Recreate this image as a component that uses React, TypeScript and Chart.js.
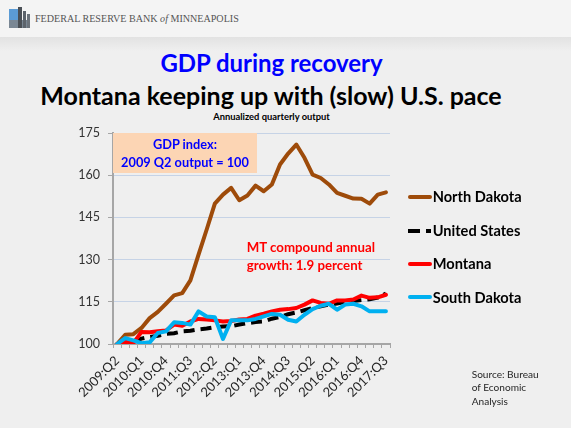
import React, { useEffect, useRef } from "react";
import { Chart, registerables } from "chart.js";

Chart.register(...registerables);

const categories = [
  "2009:Q2", "2009:Q3", "2009:Q4",
  "2010:Q1", "2010:Q2", "2010:Q3", "2010:Q4",
  "2011:Q1", "2011:Q2", "2011:Q3", "2011:Q4",
  "2012:Q1", "2012:Q2", "2012:Q3", "2012:Q4",
  "2013:Q1", "2013:Q2", "2013:Q3", "2013:Q4",
  "2014:Q1", "2014:Q2", "2014:Q3", "2014:Q4",
  "2015:Q1", "2015:Q2", "2015:Q3", "2015:Q4",
  "2016:Q1", "2016:Q2", "2016:Q3", "2016:Q4",
  "2017:Q1", "2017:Q2", "2017:Q3",
];

const northDakota = [100, 103.3, 103.5, 105.7, 109.2, 111.4, 114.3, 117.3, 118.1, 122.6, 131.8, 140.7, 149.9, 153.1, 155.5, 151.1, 152.8, 156.3, 154.3, 156.7, 163.8, 167.7, 170.9, 166.2, 160.2, 159.0, 156.7, 153.7, 152.7, 151.7, 151.6, 149.9, 153.1, 153.9];
const unitedStates = [100, 100.3, 101.0, 101.9, 102.5, 102.9, 103.6, 103.8, 104.5, 104.7, 105.2, 105.5, 106.0, 106.2, 106.3, 106.9, 107.4, 107.8, 108.0, 109.0, 109.6, 110.6, 111.2, 112.0, 112.8, 113.4, 114.0, 114.4, 115.0, 115.3, 115.6, 115.9, 116.5, 117.9];
const montana = [100, 100.8, 100.3, 104.3, 104.2, 104.5, 104.8, 106.9, 106.5, 108.0, 108.9, 108.7, 108.4, 108.0, 108.2, 108.7, 108.9, 110.1, 110.8, 111.6, 112.2, 112.4, 112.8, 114.0, 115.5, 114.6, 114.3, 115.5, 115.5, 115.8, 117.2, 116.4, 116.6, 117.5];
const southDakota = [100, 102.1, 101.3, 100.3, 100.6, 103.9, 104.5, 107.7, 107.5, 106.9, 111.6, 109.8, 109.5, 101.8, 108.4, 108.4, 108.4, 108.9, 109.8, 110.7, 110.4, 108.6, 108.0, 110.4, 112.4, 113.6, 114.3, 112.2, 114.0, 114.3, 113.4, 111.6, 111.6, 111.6];

const seriesNames = ["North Dakota", "United States", "Montana", "South Dakota"];
const yTicks = [100, 115, 130, 145, 160, 175];

const FONT = 'Lato, "Open Sans", sans-serif';
const BROWN = "#9E4B0A";
const RED = "#FF0000";
const BLUE = "#00B0F0";

let mctx: CanvasRenderingContext2D | null = null;
function fit(text: string, weight: string, family: string, target: number, style = "normal") {
  if (!mctx) mctx = document.createElement("canvas").getContext("2d");
  if (!mctx) return 12;
  mctx.font = `${style} ${weight} 100px ${family}`;
  const w = mctx.measureText(text).width;
  return (100 * target) / w;
}

type TxtProps = {
  text: string; x: number; y: number; size: number; weight?: string | number;
  color?: string; align?: "center" | "left"; family?: string;
};
function Txt({ text, x, y, size, weight = "bold", color = "#000", align = "center", family = FONT }: TxtProps) {
  const lh = size * 1.2;
  const style: React.CSSProperties = {
    position: "absolute",
    top: y - lh / 2,
    lineHeight: `${lh}px`,
    fontSize: size,
    fontWeight: weight as any,
    fontFamily: family,
    color,
    whiteSpace: "nowrap",
  };
  if (align === "center") {
    style.left = x - 400;
    style.width = 800;
    style.textAlign = "center";
  } else {
    style.left = x;
  }
  return <div style={style}>{text}</div>;
}

export default function App() {
  const canvasRef = useRef<HTMLCanvasElement | null>(null);

  useEffect(() => {
    const canvas = canvasRef.current;
    if (!canvas) return;
    const chart = new Chart(canvas, {
      type: "line",
      data: {
        labels: categories,
        datasets: [
          { label: seriesNames[0], data: northDakota, borderColor: BROWN, backgroundColor: BROWN, borderWidth: 4, pointRadius: 0, tension: 0, order: 3, borderJoinStyle: "round", borderCapStyle: "round" },
          { label: seriesNames[1], data: unitedStates, borderColor: "#000", backgroundColor: "#000", borderWidth: 4, pointRadius: 0, tension: 0, order: 2, borderDash: [11, 6] },
          { label: seriesNames[2], data: montana, borderColor: RED, backgroundColor: RED, borderWidth: 4, pointRadius: 0, tension: 0, order: 1, borderJoinStyle: "round", borderCapStyle: "round" },
          { label: seriesNames[3], data: southDakota, borderColor: BLUE, backgroundColor: BLUE, borderWidth: 4, pointRadius: 0, tension: 0, order: 0, borderJoinStyle: "round", borderCapStyle: "round" },
        ],
      },
      options: {
        animation: false,
        responsive: false,
        devicePixelRatio: 1,
        layout: { padding: { left: 0, right: 181, top: 133, bottom: 0 } },
        plugins: { legend: { display: false }, tooltip: { enabled: false }, title: { display: false } },
        scales: {
          x: {
            type: "category",
            offset: true,
            afterFit: (s: any) => { s.height = 84; },
            grid: { display: true, drawOnChartArea: false, drawTicks: true, tickLength: 4, tickColor: "#A6A6A6", offset: true, lineWidth: 1 },
            border: { display: true, color: "#A6A6A6", width: 2 },
            ticks: {
              autoSkip: false,
              maxRotation: 45,
              minRotation: 45,
              padding: 5,
              color: "#262626",
              font: { family: FONT, size: 13 },
              callback: (_v: any, i: number) => (i % 3 === 0 ? categories[i] : ""),
            },
          },
          y: {
            min: 100,
            max: 175,
            afterFit: (s: any) => { s.width = 113; },
            afterBuildTicks: (s: any) => { s.ticks = yTicks.map((v) => ({ value: v })); },
            grid: {
              color: (c: any) => (c.tick && c.tick.value === 100 ? "rgba(0,0,0,0)" : "#C6D3E6"),
              tickColor: "#A6A6A6",
              tickLength: 5,
              drawTicks: true,
              lineWidth: 1,
            },
            border: { display: true, color: "#A6A6A6", width: 2 },
            ticks: { padding: 8, color: "#333333", font: { family: FONT, size: 12.5 } },
          },
        },
      } as any,
    });
    return () => chart.destroy();
  }, []);

  const hdrFamily = '"Liberation Serif", "DejaVu Serif", serif';
  const hdrSize = fit("FEDERAL RESERVE BANK of MINNEAPOLIS", "normal", hdrFamily, 205);
  const t1 = fit("GDP during recovery", "bold", FONT, 223);
  const t2 = fit("Montana keeping up with (slow) U.S. pace", "bold", FONT, 462);
  const t3 = fit("Annualized quarterly output", "bold", FONT, 117);
  const boxSize = fit("2009 Q2 output = 100", "bold", FONT, 128);
  const mtSize = fit("MT compound annual", "bold", FONT, 129);
  const legSize = fit("North Dakota", "bold", FONT, 89);
  const srcSize = fit("Source: Bureau", "normal", FONT, 67);

  const legendY = [196.7, 231, 264, 297.3];
  const legendColors = [BROWN, "#000", RED, BLUE];

  return (
    <div style={{ position: "fixed", left: 0, top: 0, width: 571, height: 428, background: "#EFEFEF", overflow: "hidden" }}>
      <div style={{ position: "absolute", left: 0, top: 0, width: 571, height: 37, background: "#F4F4F4" }} />
      <div style={{ position: "absolute", left: 0, top: 37, width: 571, height: 14, background: "linear-gradient(#E2E2E2, #EFEFEF)" }} />
      {/* logo */}
      <div style={{ position: "absolute", left: 9, top: 9, width: 10, height: 11, background: "#5B9BD5" }} />
      <div style={{ position: "absolute", left: 9, top: 20, width: 20, height: 8, background: "#7A8794" }} />
      <div style={{ position: "absolute", left: 18, top: 7, width: 4, height: 21, background: "#4A4F55" }} />
      <div style={{ position: "absolute", left: 23, top: 11, width: 3, height: 17, background: "#5C636B" }} />
      <div style={{ position: "absolute", left: 27, top: 14, width: 3, height: 14, background: "#6C737B" }} />
      <div style={{ position: "absolute", left: 35, top: 19 - hdrSize * 0.6, lineHeight: `${hdrSize * 1.2}px`, fontSize: hdrSize, fontFamily: hdrFamily, color: "#555", whiteSpace: "nowrap" }}>
        FEDERAL RESERVE BANK <i>of</i> MINNEAPOLIS
      </div>

      <Txt text="GDP during recovery" x={271.5} y={63} size={t1} color="#0000FF" />
      <Txt text="Montana keeping up with (slow) U.S. pace" x={271} y={95} size={t2} color="#000" />
      <Txt text="Annualized quarterly output" x={271.5} y={117} size={t3} color="#000" />

      <canvas ref={canvasRef} width={571} height={428} style={{ position: "absolute", left: 0, top: 0, width: 571, height: 428 }} />

      <div style={{ position: "absolute", left: 113, top: 133, width: 144, height: 40, background: "#FCD5B4" }} />
      <Txt text="GDP index:" x={185} y={145} size={boxSize} color="#0000FF" />
      <Txt text="2009 Q2 output = 100" x={185} y={162.7} size={boxSize} color="#0000FF" />

      <Txt text="MT compound annual" x={246.7} y={248.3} size={mtSize} color={RED} align="left" />
      <Txt text="growth: 1.9 percent" x={246.7} y={266} size={mtSize} color={RED} align="left" />

      {seriesNames.map((name, i) => (
        <React.Fragment key={name}>
          {i === 1 ? (
            <>
              <div style={{ position: "absolute", left: 408, top: legendY[i] - 2, width: 12, height: 4, background: "#000" }} />
              <div style={{ position: "absolute", left: 426, top: legendY[i] - 2, width: 5, height: 4, background: "#000" }} />
            </>
          ) : (
            <div style={{ position: "absolute", left: 408, top: legendY[i] - 2, width: 24, height: 4, background: legendColors[i], borderRadius: 2 }} />
          )}
          <Txt text={name} x={432.7} y={legendY[i]} size={legSize} color="#000" align="left" />
        </React.Fragment>
      ))}

      <Txt text="Source: Bureau" x={471.7} y={374.3} size={srcSize} weight="normal" color="#262626" align="left" />
      <Txt text="of Economic" x={471.7} y={387.5} size={srcSize} weight="normal" color="#262626" align="left" />
      <Txt text="Analysis" x={471.7} y={400.7} size={srcSize} weight="normal" color="#262626" align="left" />
    </div>
  );
}
